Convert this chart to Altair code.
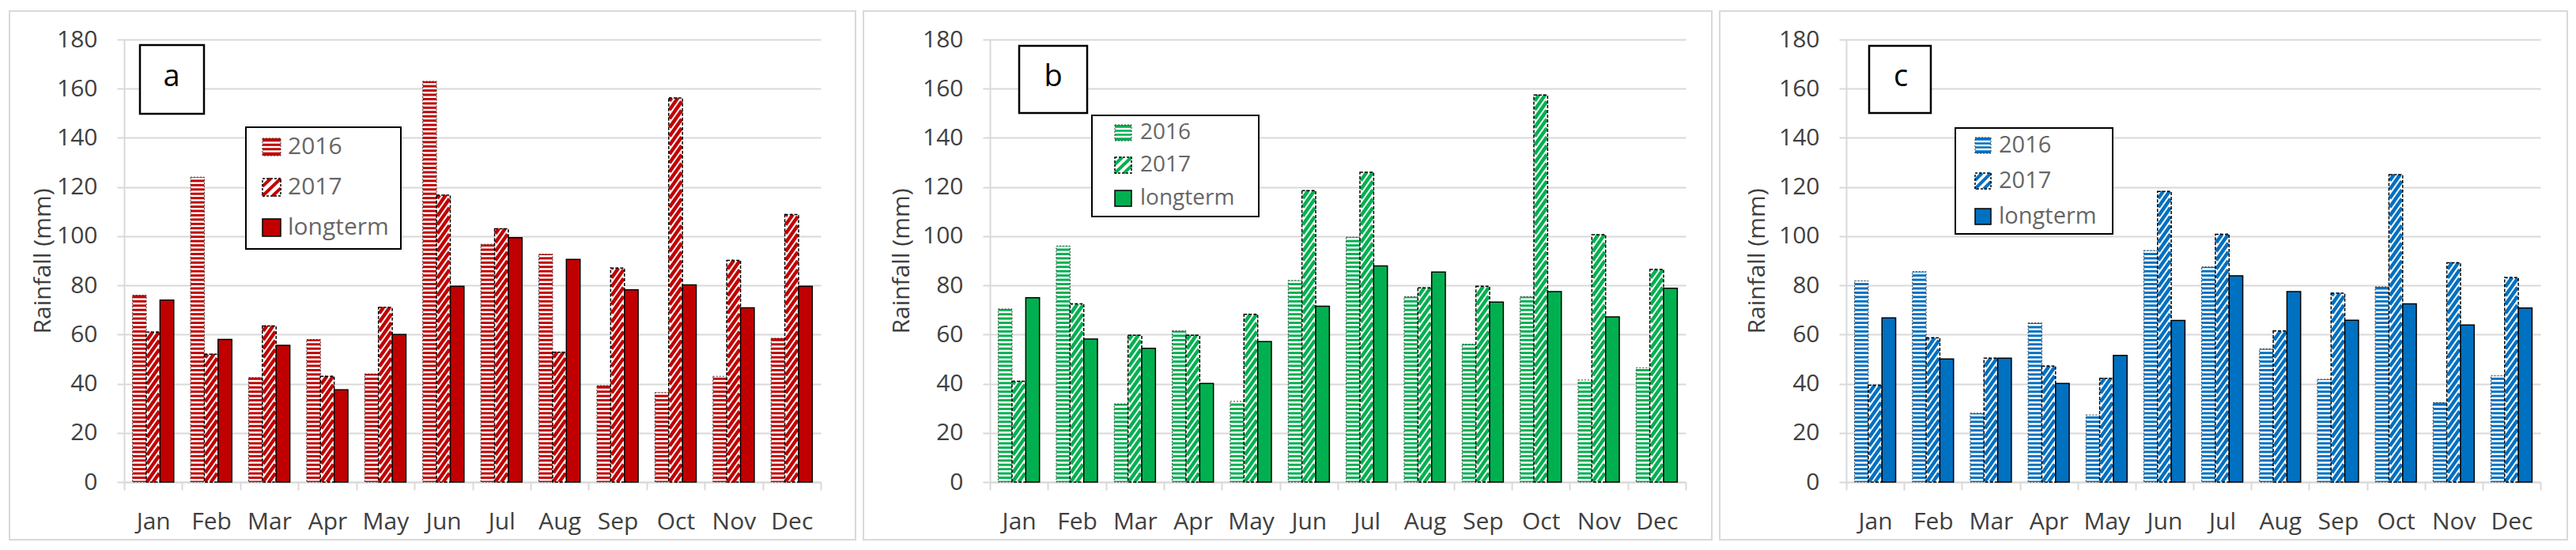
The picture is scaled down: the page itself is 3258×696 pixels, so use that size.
import altair as alt
import pandas as pd

months = ["Jan", "Feb", "Mar", "Apr", "May", "Jun", "Jul", "Aug", "Sep", "Oct", "Nov", "Dec"]
series_names = ["2016", "2017", "longterm"]

a_2016 = [76, 124, 42.5, 58, 44, 163, 96.7, 92.7, 39.2, 36.4, 43, 58.5]
a_2017 = [61, 52, 63.5, 43, 71, 116.7, 103, 52.8, 87, 156.2, 90.2, 108.8]
a_long = [74, 58, 55.6, 37.5, 60, 79.6, 99.4, 90.6, 78.2, 80.2, 70.9, 79.6]

b_2016 = [70.4, 96, 31.8, 61.5, 32.8, 82, 99.6, 75.4, 56.1, 75.4, 41.5, 46.5]
b_2017 = [41, 72.5, 59.7, 59.7, 68.2, 118.5, 126, 79, 79.6, 157.4, 100.6, 86.5]
b_long = [75, 58.2, 54.4, 40.1, 57.1, 71.5, 87.9, 85.4, 73.2, 77.5, 67.2, 78.8]

c_2016 = [81.8, 85.6, 28, 64.7, 27.3, 94.2, 87.5, 54.2, 41.8, 79.4, 32.3, 43.2]
c_2017 = [39.4, 58.7, 50.4, 47.2, 42.2, 118.2, 100.8, 61.5, 76.8, 125, 89.2, 83.2]
c_long = [66.8, 50.1, 50.4, 40.1, 51.5, 65.7, 83.9, 77.5, 65.8, 72.5, 63.9, 70.8]

FONT = "Open Sans"
GRID = "#d9d9d9"
TXT = "#404040"
LEG_TXT = "#666666"
H = 560
GROUP = 0.71
BW = GROUP / 3
OFF = (1 - GROUP) / 2
P16 = 1.75
P17 = 3.6
K17 = 7.0

one = pd.DataFrame({"k": [0]})


def vrect(x1, y1, x2, y2, **kw):
    return alt.Chart(one).mark_rect(**kw).encode(
        x=alt.value(x1), x2=alt.value(x2), y=alt.value(y1), y2=alt.value(y2))


def vrule(x1, y1, x2, y2, **kw):
    return alt.Chart(one).mark_rule(**kw).encode(
        x=alt.value(x1), x2=alt.value(x2), y=alt.value(y1), y2=alt.value(y2))


def vtext(x, y, t, **kw):
    return alt.Chart(one).mark_text(**kw).encode(
        x=alt.value(x), y=alt.value(y), text=alt.value(t))


def legend(color, box, rows, sx, sw, sh, tx, fs):
    layers = [vrect(*box, fill="white", stroke="black", strokeWidth=2)]
    t = rows[0] - sh / 2
    b = rows[0] + sh / 2
    layers.append(vrect(sx, t, sx + sw, b, fill=color))
    for i in range(1, 4):
        yy = t + i * sh / 4
        layers.append(vrule(sx, yy, sx + sw, yy, stroke="white", strokeWidth=2.5))
    layers.append(vrect(sx, t, sx + sw, b, fillOpacity=0, stroke="#404040",
                        strokeWidth=1, strokeDash=[2, 2]))
    t = rows[1] - sh / 2
    b = rows[1] + sh / 2
    layers.append(vrect(sx, t, sx + sw, b, fill="white"))
    for fx1, fy1, fx2, fy2 in [(0, 0.45, 0.45, 0), (0, 1, 1, 0), (0.55, 1, 1, 0.55)]:
        layers.append(vrule(sx + fx1 * sw, t + fy1 * sh, sx + fx2 * sw, t + fy2 * sh,
                            stroke=color, strokeWidth=4))
    layers.append(vrect(sx, t, sx + sw, b, fillOpacity=0, stroke="black",
                        strokeWidth=1.5, strokeDash=[3, 2]))
    t = rows[2] - sh / 2
    b = rows[2] + sh / 2
    layers.append(vrect(sx, t, sx + sw, b, fill=color, stroke="black", strokeWidth=1.5))
    for name, yc in zip(series_names, rows):
        layers.append(vtext(tx, yc, name, align="left", baseline="middle", font=FONT,
                            fontSize=fs, color=LEG_TXT))
    return layers


def panel(v16, v17, vlt, color, W, border, title_x, labbox, labtxt, letter, leg):
    df = pd.DataFrame({
        "month": months * 3,
        "idx": list(range(12)) * 3,
        "series": [s for s in series_names for _ in months],
        "sidx": [i for i in range(3) for _ in months],
        "value": v16 + v17 + vlt,
    })
    xq = alt.Scale(domain=[0, 12], nice=False, zero=False)
    yq = alt.Scale(domain=[0, 180], nice=False, zero=False)
    yaxis = alt.Axis(values=list(range(0, 181, 20)), title="Rainfall (mm)",
                     titleFont=FONT, titleFontSize=30, titleFontWeight="normal",
                     titleColor=TXT, titleX=title_x, titleY=H / 2, titleAngle=270,
                     titleBaseline="middle", titleAlign="center",
                     labelFont=FONT, labelFontSize=30, labelColor=TXT,
                     labelPadding=25, tickSize=9, tickWidth=2, tickColor=GRID,
                     domainColor=GRID, domainWidth=2, grid=True, gridColor=GRID,
                     gridWidth=2, zindex=0, orient="left")

    def Y(field):
        return alt.Y(field, type="quantitative", scale=yq, axis=yaxis)

    base = alt.Chart(df).transform_calculate(
        xl=f"datum.idx + {OFF} + datum.sidx * {BW}",
        xr=f"datum.idx + {OFF} + (datum.sidx + 1) * {BW}",
    )
    Xl = alt.X("xl:Q", scale=xq, axis=None)
    X2r = alt.X2("xr:Q")

    axes = alt.Chart(df).transform_filter("datum.sidx == 2").mark_bar(opacity=0).encode(
        x=alt.X("month:N", sort=months,
                scale=alt.Scale(type="band", paddingInner=0, paddingOuter=0),
                axis=alt.Axis(title=None, labelAngle=0, tickBand="extent", ticks=True,
                              tickSize=10, tickWidth=2, tickColor=GRID, domain=True,
                              domainColor=GRID, domainWidth=2, labelFont=FONT,
                              labelFontSize=30, labelColor=TXT, labelPadding=25,
                              grid=False, zindex=0)),
        y=Y("value"),
    )

    s16 = base.transform_filter("datum.sidx == 0")
    fill16 = s16.mark_rect(color=color).encode(x=Xl, x2=X2r, y=Y("value"), y2=alt.datum(0))
    lines16 = s16.transform_calculate(
        ys=f"sequence({P16 / 2}, datum.value, {P16})"
    ).transform_flatten(["ys"]).mark_rule(color="white", strokeWidth=2.5).encode(
        x=Xl, x2=X2r, y=Y("ys"))
    out16 = s16.mark_rect(fillOpacity=0, stroke="#404040", strokeWidth=1,
                          strokeDash=[2, 2]).encode(x=Xl, x2=X2r, y=Y("value"), y2=alt.datum(0))

    s17 = base.transform_filter("datum.sidx == 1")
    bg17 = s17.mark_rect(color="white").encode(x=Xl, x2=X2r, y=Y("value"), y2=alt.datum(0))
    diag = (
        s17.transform_calculate(s=f"sequence({-K17}, datum.value, {P17})")
        .transform_flatten(["s"])
        .transform_calculate(a="datum.xl + 0.014")
        .transform_calculate(b="datum.xr - 0.014")
        .transform_calculate(y0="max(datum.s, 0)")
        .transform_calculate(y1=f"min(datum.s + {K17}, datum.value)")
        .transform_calculate(x0=f"datum.a + (datum.y0 - datum.s) / {K17} * (datum.b - datum.a)")
        .transform_calculate(x1=f"datum.a + (datum.y1 - datum.s) / {K17} * (datum.b - datum.a)")
        .transform_filter("datum.y1 > datum.y0")
        .mark_rule(color=color, strokeWidth=4.5, strokeCap="butt")
        .encode(x=alt.X("x0:Q", scale=xq, axis=None), x2="x1:Q",
                y=Y("y0"), y2="y1:Q")
    )
    out17 = s17.mark_rect(fillOpacity=0, stroke="black", strokeWidth=1.5,
                          strokeDash=[4, 2]).encode(x=Xl, x2=X2r, y=Y("value"), y2=alt.datum(0))

    lt = base.transform_filter("datum.sidx == 2").mark_rect(
        color=color, stroke="black", strokeWidth=1.5).encode(
        x=Xl, x2=X2r, y=Y("value"), y2=alt.datum(0))

    decor = [vrect(*border, fillOpacity=0, stroke=GRID, strokeWidth=2),
             vrect(*labbox, fill="white", stroke="black", strokeWidth=2.5),
             vtext(labtxt[0], labtxt[1], letter, align="center", baseline="middle",
                   font=FONT, fontSize=38, color="black")]
    decor += legend(color, *leg)

    return alt.layer(axes, fill16, lines16, out16, bg17, diag, out17, lt, *decor).resolve_scale(
        x="independent", y="shared").resolve_axis(y="shared").properties(width=W, height=H)


pa = panel(a_2016, a_2017, a_long, "#C00000", 881, (-145, -36, 925, 633), -103,
           (20, 7, 101, 94), (60, 48), "a",
           ((154, 111, 350, 265), (136, 187, 238), 175, 23, 22, 207, 30))
pb = panel(b_2016, b_2017, b_long, "#00B050", 880, (-160, -36, 913, 633), -112,
           (37, 8, 123, 93), (80, 48), "b",
           ((129, 96, 340, 224), (118, 159, 201), 158, 21, 20, 190, 28))
pc = panel(c_2016, c_2017, c_long, "#0070C0", 878, (-160, -36, 912, 633), -113,
           (29, 8, 107, 93), (69, 48), "c",
           ((138, 112, 337, 246), (134, 179, 224), 163, 20, 20, 193, 29))

chart = alt.hconcat(pa, pb, pc, spacing=8).properties(
    padding={"left": 3, "top": 5, "right": 0, "bottom": 0}
).configure_view(strokeWidth=0)

chart.save("out.html", embed_options={"renderer": "svg", "actions": False})
